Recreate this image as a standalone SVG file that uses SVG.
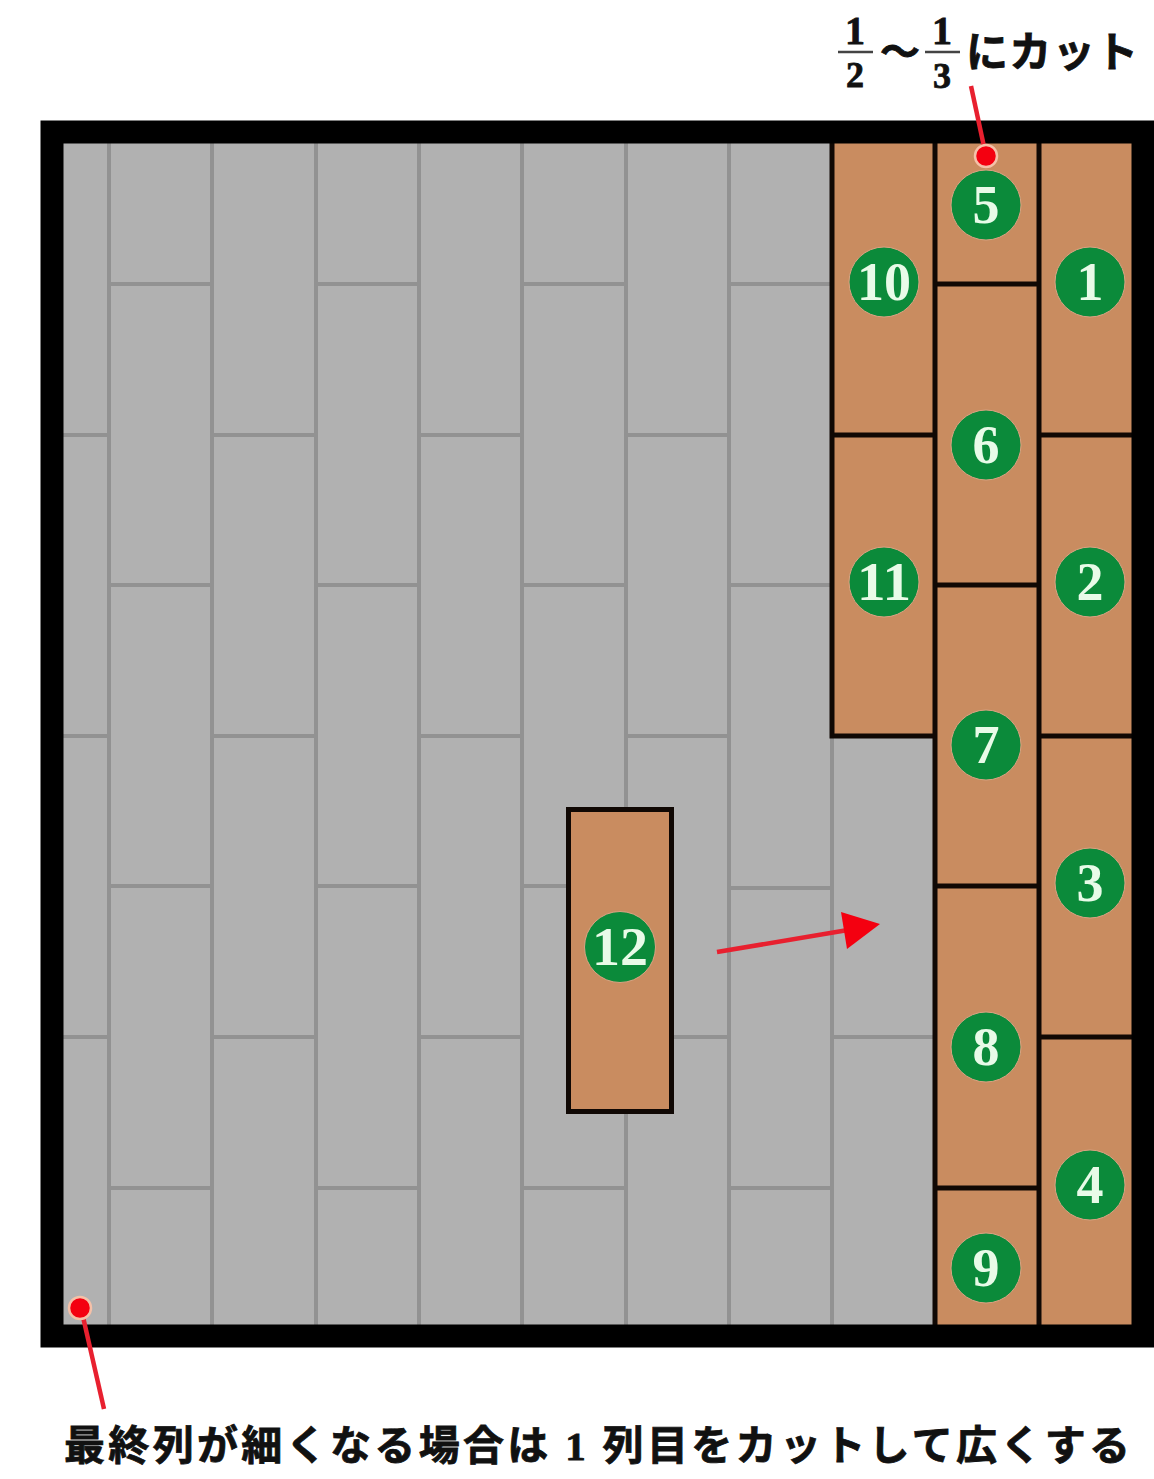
<svg xmlns="http://www.w3.org/2000/svg" width="1154" height="1479" viewBox="0 0 1154 1479">
<style>
.j{stroke:#929292;stroke-width:4;fill:none}
.b{stroke:#100804;stroke-width:5;fill:none}
.n circle{fill:#0b8a3a;stroke:#d9a383;stroke-width:1}
.n text{font-family:"Liberation Serif",serif;font-weight:bold;font-size:54px;fill:#e8fbe8;text-anchor:middle}
.t{font-family:"Liberation Serif","Noto Sans CJK JP",serif;font-weight:bold;fill:#111;stroke:#111;stroke-width:.8}
.r{stroke:#e8202f;stroke-width:4.5;fill:none}
.d{fill:#f40010;stroke:#f5c0a8;stroke-width:2.5}
</style>
<rect width="1154" height="1479" fill="#fff"/>
<g id="floor">
<rect x="52" y="132" width="1091" height="1204" fill="#000"/>
<rect x="63" y="143" width="1069" height="1182" fill="#b1b1b1"/>
<path class="j" d="M109 143V1325M212 143V1325M316 143V1325M419 143V1325M522 143V1325M626 143V1325M729 143V1325M832 736V1325"/>
<path class="j" d="M63 435H109M63 736H109M63 1037H109M109 284H212M109 585H212M109 886H212M109 1188H212M212 435H316M212 736H316M212 1037H316M316 284H419M316 585H419M316 886H419M316 1188H419M419 435H522M419 736H522M419 1037H522M522 284H626M522 585H626M522 886H626M522 1188H626M626 435H729M626 736H729M626 1037H729M729 284H832M729 585H832M729 888H832M729 1188H832M832 1037H935"/>
<rect x="833" y="143" width="102" height="593" fill="#c98c60"/>
<rect x="935" y="143" width="197" height="1182" fill="#c98c60"/>
<path class="b" d="M832 143V736H935M832 435H935M935 143V1325M1039 143V1325M935 284H1039M935 585H1039M935 886H1039M935 1188H1039M1039 435H1132M1039 736H1132M1039 1037H1132"/>
<path d="M52 132H1143V1336H52Z" fill="none" stroke="#000" stroke-width="23"/>
</g>
<g id="piece12"><rect x="568.500" y="809.500" width="103" height="302" fill="#c98c60" stroke="#100804" stroke-width="5"/></g>
<g id="n5" class="n"><circle cx="986" cy="205" r="35"/><text x="986" y="223">5</text></g>
<g id="n10" class="n"><circle cx="884" cy="282" r="35"/><text x="884" y="300" textLength="54" lengthAdjust="spacingAndGlyphs">10</text></g>
<g id="n1" class="n"><circle cx="1090" cy="282" r="35"/><text x="1090" y="300">1</text></g>
<g id="n6" class="n"><circle cx="986" cy="445" r="35"/><text x="986" y="463">6</text></g>
<g id="n11" class="n"><circle cx="884" cy="582" r="35"/><text x="884" y="600" textLength="54" lengthAdjust="spacingAndGlyphs">11</text></g>
<g id="n2" class="n"><circle cx="1090" cy="582" r="35"/><text x="1090" y="600">2</text></g>
<g id="n7" class="n"><circle cx="986" cy="745" r="35"/><text x="986" y="763">7</text></g>
<g id="n3" class="n"><circle cx="1090" cy="883" r="35"/><text x="1090" y="901">3</text></g>
<g id="n8" class="n"><circle cx="986" cy="1047" r="35"/><text x="986" y="1065">8</text></g>
<g id="n4" class="n"><circle cx="1090" cy="1185" r="35"/><text x="1090" y="1203">4</text></g>
<g id="n9" class="n"><circle cx="986" cy="1268" r="35"/><text x="986" y="1286">9</text></g>
<g id="n12" class="n"><circle cx="620" cy="947" r="35.500"/><text x="620" y="965" textLength="56" lengthAdjust="spacingAndGlyphs">12</text></g>
<g id="connectors">
<path class="r" d="M971 86L986 156"/><circle class="d" cx="986" cy="156" r="11"/>
<path class="r" d="M104 1409L81 1308"/><circle class="d" cx="80" cy="1308" r="11"/>
<path class="r" d="M717 952L848 930"/><path d="M841 912L880 924L847 949Z" fill="#f40010"/>
</g>
<g id="labels">
<text class="t" x="855" y="44" font-size="40" text-anchor="middle">1</text>
<path d="M838 52H873M925 52H960" stroke="#444" stroke-width="2.500" fill="none"/>
<text class="t" x="855" y="87" font-size="36" text-anchor="middle">2</text>
<text class="t" x="900" y="66" font-size="40" text-anchor="middle">～</text>
<text class="t" x="942" y="44" font-size="40" text-anchor="middle">1</text>
<text class="t" x="942" y="88" font-size="36" text-anchor="middle">3</text>
<text class="t" x="966" y="67" font-size="42" textLength="172" lengthAdjust="spacing">にカット</text>
<text class="t" x="64" y="1460" font-size="41" textLength="1066" lengthAdjust="spacing" xml:space="preserve">最終列が細くなる場合は 1 列目をカットして広くする</text>
</g>
</svg>
